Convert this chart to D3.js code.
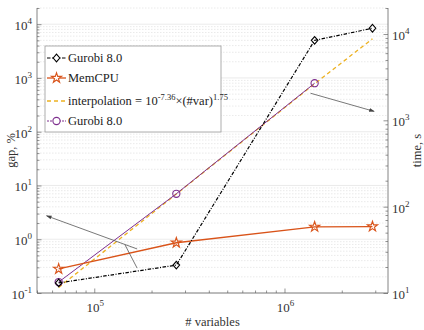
<!DOCTYPE html>
<html><head><meta charset="utf-8">
<script src="https://cdn.jsdelivr.net/npm/d3@7"></script>
<style>body{margin:0;background:#fff} text{font-family:"Liberation Serif","DejaVu Serif","Times New Roman",serif}</style>
</head><body>
<svg id="c" width="424" height="330" font-family="Liberation Serif, DejaVu Serif, serif"></svg>
<script>
// ---- data ----
const variables = [65000, 270000, 1440000, 2900000];
const gurobiGap = [0.154, 0.33, 5000, 8400];          // left axis, gap %
const memcpuGap = [0.28, 0.86, 1.70, 1.72];           // left axis, gap %
const interpTime = [11.6, 140, 2650, 8800];           // right axis, time s
const gurobiTime = [13.4, 141, 2690];                 // right axis, time s
const leftTicks = [0.1, 1, 10, 100, 1000, 10000];
const leftTickExp = ["-1", "0", "1", "2", "3", "4"];
const rightTicks = [10, 100, 1000, 10000];
const rightTickExp = ["1", "2", "3", "4"];
const xTicks = [1e5, 1e6];
const xTickExp = ["5", "6"];
const legendLabels = ["Gurobi 8.0", "MemCPU", "interpolation", "Gurobi 8.0"];

const svg = d3.select("#c");
const L = 37, R = 388, T = 8, B = 293;
const x = d3.scaleLog().domain([5e4, 3.5e6]).range([L, R]);
const yL = d3.scaleLog().domain([0.1, 2e4]).range([B, T]);
const yR = d3.scaleLog().domain([10, 2e4]).range([B, T]);

function minors(dom) {
  const out = [];
  for (let e = Math.floor(Math.log10(dom[0])); e <= Math.ceil(Math.log10(dom[1])); e++)
    for (let k = 2; k <= 9; k++) { const v = k * Math.pow(10, e); if (v >= dom[0] && v <= dom[1]) out.push(v); }
  return out;
}
// ---- grid ----
const g = svg.append("g");
g.selectAll(".mg").data(minors(yL.domain())).join("line")
  .attr("x1", L).attr("x2", R).attr("y1", d => yL(d)).attr("y2", d => yL(d))
  .attr("stroke", "#e4e4e4").attr("stroke-width", 0.8).attr("stroke-dasharray", "1.5,1.5");
g.selectAll(".Mg").data(leftTicks).join("line")
  .attr("x1", L).attr("x2", R).attr("y1", d => yL(d)).attr("y2", d => yL(d))
  .attr("stroke", "#e6e6e6").attr("stroke-width", 0.8);

// ---- lines ----
const lineL = (ys) => d3.line().x((d, i) => x(variables[i])).y(d => yL(d))(ys);
const lineR = (ys) => d3.line().x((d, i) => x(variables[i])).y(d => yR(d))(ys);

const cBlack = "#000", cOrange = "#D95319", cYellow = "#EDB120", cPurple = "#7E2F8E";
const dashDot = "3.5,1.5,1,1.5";
svg.append("path").attr("d", lineR(interpTime)).attr("fill", "none").attr("stroke", cYellow).attr("stroke-width", 1.3).attr("stroke-dasharray", "4,3");
svg.append("path").attr("d", lineR(gurobiTime)).attr("fill", "none").attr("stroke", cPurple).attr("stroke-width", 1);
svg.append("path").attr("d", lineL(memcpuGap)).attr("fill", "none").attr("stroke", cOrange).attr("stroke-width", 1.3);
svg.append("path").attr("d", lineL(gurobiGap)).attr("fill", "none").attr("stroke", cBlack).attr("stroke-width", 1.2).attr("stroke-dasharray", dashDot);

const diamond = "M0,-3.8L3.3,0L0,3.8L-3.3,0Z";
const star = d3.symbol().type(d3.symbolStar).size(32)();
svg.selectAll(".st").data(memcpuGap).join("path").attr("d", star)
  .attr("transform", (d, i) => `translate(${x(variables[i])},${yL(d)})`)
  .attr("fill", "none").attr("stroke", cOrange).attr("stroke-width", 1.1);
svg.selectAll(".pc").data(gurobiTime).join("circle")
  .attr("cx", (d, i) => x(variables[i])).attr("cy", d => yR(d)).attr("r", 3.6)
  .attr("fill", "none").attr("stroke", cPurple).attr("stroke-width", 1.1);
svg.selectAll(".dm").data(gurobiGap).join("path").attr("d", diamond)
  .attr("transform", (d, i) => `translate(${x(variables[i])},${yL(d)})`)
  .attr("fill", "none").attr("stroke", cBlack).attr("stroke-width", 1.1);

// ---- annotation arrows (data coords) ----
svg.append("defs").append("marker").attr("id", "ah").attr("viewBox", "0 0 10 10")
  .attr("refX", 9).attr("refY", 5).attr("markerWidth", 7).attr("markerHeight", 7).attr("orient", "auto")
  .append("path").attr("d", "M0,1.5L10,5L0,8.5Z").attr("fill", "#444");
const arr = (x1, y1, x2, y2, head) => {
  const l = svg.append("line").attr("x1", x1).attr("y1", y1).attr("x2", x2).attr("y2", y2)
    .attr("stroke", "#555").attr("stroke-width", 0.8);
  if (head) l.attr("marker-end", "url(#ah)");
};
arr(x(168000), yL(0.66), x(56100), yL(2.73), true);
arr(x(145000), yL(0.79), x(168000), yL(0.29), false);
arr(x(1.37e6), yR(2060), x(2.96e6), yR(1270), true);

// ---- axes ----
const axc = "#666";
function inwardAxis(axisFn, scale, tr, ticks, len) {
  const a = svg.append("g").attr("transform", tr)
    .call(axisFn(scale).tickValues(ticks).tickSize(-len).tickFormat(""));
  a.select(".domain").remove();
  a.selectAll("line").attr("stroke", axc).attr("stroke-width", 0.7);
}
inwardAxis(d3.axisLeft, yL, `translate(${L},0)`, minors(yL.domain()), 2.5);
inwardAxis(d3.axisLeft, yL, `translate(${L},0)`, leftTicks, 4.5);
inwardAxis(d3.axisRight, yR, `translate(${R},0)`, minors(yR.domain()), 2.5);
inwardAxis(d3.axisRight, yR, `translate(${R},0)`, rightTicks, 4.5);
inwardAxis(d3.axisBottom, x, `translate(0,${B})`, minors(x.domain()), 2.5);
inwardAxis(d3.axisBottom, x, `translate(0,${B})`, xTicks, 4.5);
svg.append("path").attr("d", `M${L},${T}V${B}H${R}V${T}`).attr("fill", "none").attr("stroke", axc).attr("stroke-width", 0.8);

const tc = "#333";
const FF = "Liberation Serif, DejaVu Serif, serif";
function powLabel(px, py, exp, anchor) {
  const t = svg.append("text").attr("x", px).attr("y", py).attr("text-anchor", anchor)
    .attr("fill", tc).attr("font-size", 13).attr("font-family", FF);
  t.append("tspan").text("10");
  t.append("tspan").attr("dy", -6).attr("font-size", 9).text(exp);
}
leftTicks.forEach((v, i) => powLabel(32, yL(v) + 6, leftTickExp[i], "end"));
rightTicks.forEach((v, i) => powLabel(392, yR(v) + 6, rightTickExp[i], "start"));
xTicks.forEach((v, i) => powLabel(x(v) + 1, 312, xTickExp[i], "middle"));

svg.append("text").attr("transform", `translate(15,${(T + B) / 2}) rotate(-90)`).attr("text-anchor", "middle")
  .attr("fill", tc).attr("font-size", 12.5).attr("font-family", FF).text("gap, %");
svg.append("text").attr("transform", `translate(421,${(T + B) / 2}) rotate(-90)`).attr("text-anchor", "middle")
  .attr("fill", tc).attr("font-size", 12.5).attr("font-family", FF).text("time, s");
svg.append("text").attr("x", (L + R) / 2).attr("y", 326).attr("text-anchor", "middle")
  .attr("fill", tc).attr("font-size", 12.5).attr("font-family", FF).text("# variables");

// ---- legend ----
const lg = svg.append("g").attr("transform", "translate(45,46)");
lg.append("rect").attr("width", 176).attr("height", 86).attr("fill", "#fff").attr("stroke", "#999").attr("stroke-width", 0.8);
const rowsY = [12, 32, 55, 75];
const styles = [
  {c: cBlack, dash: dashDot, w: 1.2, m: "d"},
  {c: cOrange, dash: null, w: 1.3, m: "s"},
  {c: cYellow, dash: "4,3", w: 1.3, m: null},
  {c: cPurple, dash: "2,1", w: 1, m: "c"}
];
legendLabels.forEach((lab, i) => {
  const s = styles[i], yy = rowsY[i];
  const ln = lg.append("line").attr("x1", 2).attr("x2", 21).attr("y1", yy).attr("y2", yy)
    .attr("stroke", s.c).attr("stroke-width", s.w);
  if (s.dash) ln.attr("stroke-dasharray", s.dash);
  if (s.m === "d") lg.append("path").attr("d", diamond).attr("transform", `translate(11.5,${yy})`).attr("fill", "#fff").attr("stroke", s.c).attr("stroke-width", 1.1);
  if (s.m === "s") lg.append("path").attr("d", star).attr("transform", `translate(11.5,${yy})`).attr("fill", "#fff").attr("stroke", s.c).attr("stroke-width", 1.1);
  if (s.m === "c") lg.append("circle").attr("cx", 11.5).attr("cy", yy).attr("r", 3.6).attr("fill", "#fff").attr("stroke", s.c).attr("stroke-width", 1.1);
  const t = lg.append("text").attr("x", 23).attr("y", yy + 4).attr("font-size", 12.5).attr("fill", "#222").attr("font-family", FF);
  if (i === 2) {
    t.append("tspan").text("interpolation = 10");
    t.append("tspan").attr("dy", -5).attr("font-size", 8.5).text("-7.36");
    t.append("tspan").attr("dy", 5).text("×(#var)");
    t.append("tspan").attr("dy", -5).attr("font-size", 8.5).text("1.75");
  } else t.text(lab);
});
</script>
</body></html>
